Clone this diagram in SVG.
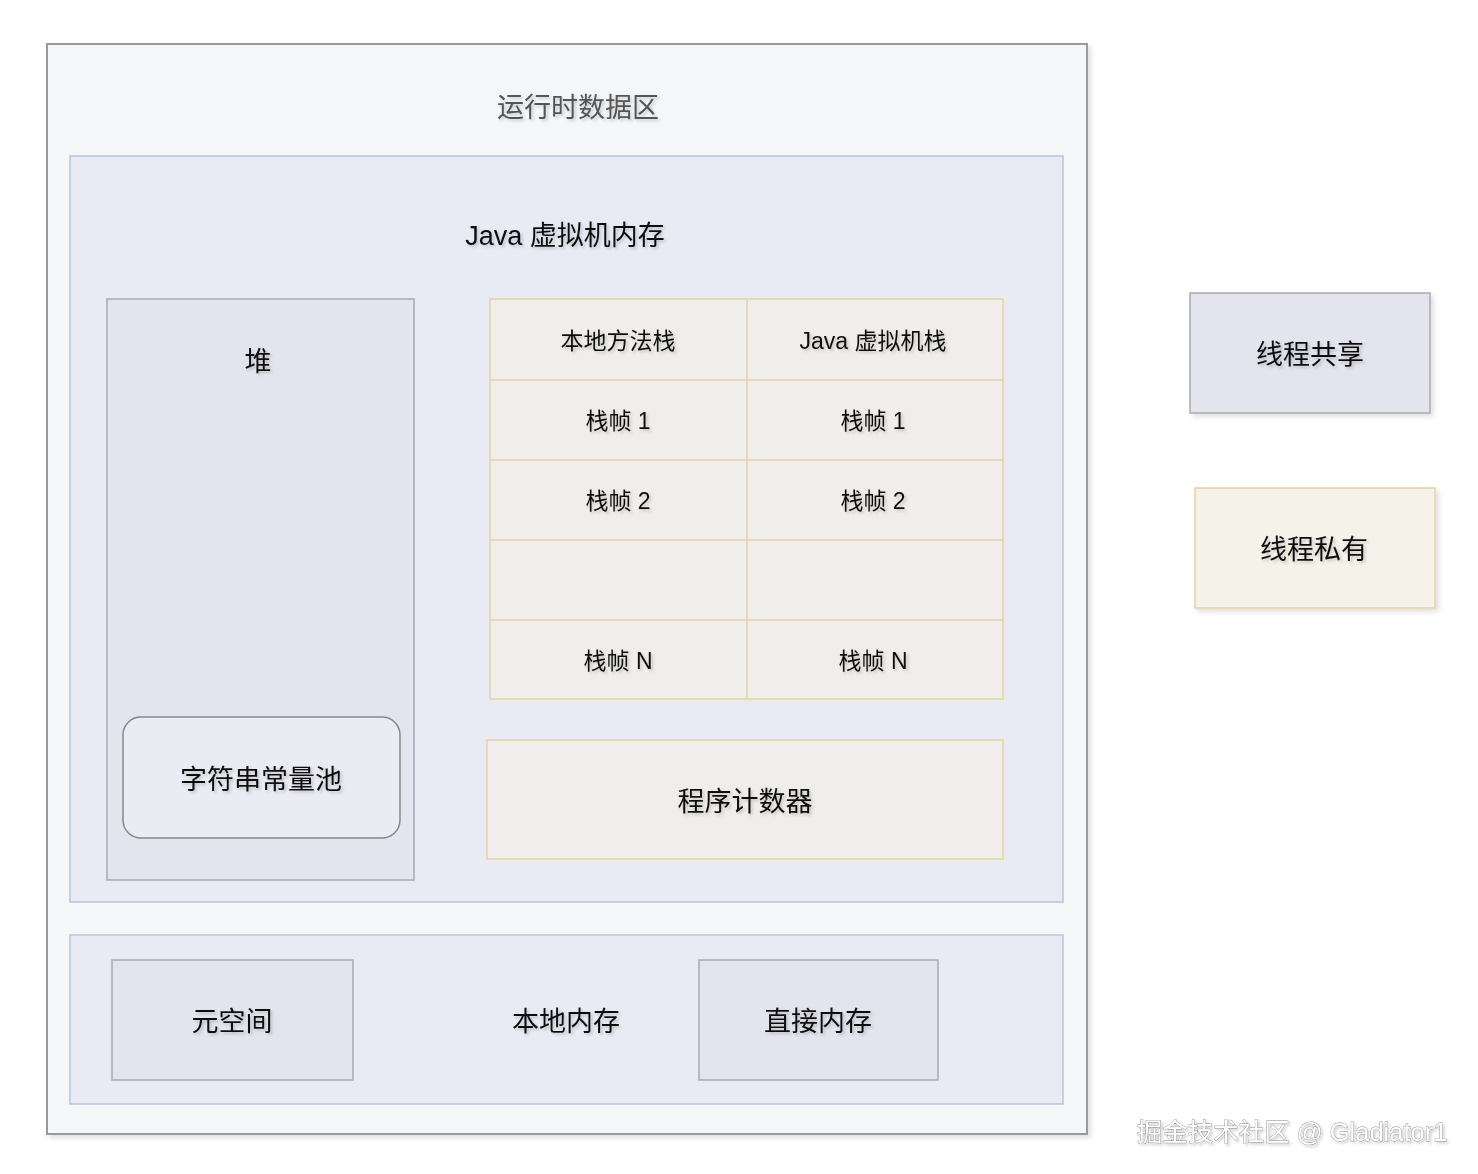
<svg xmlns="http://www.w3.org/2000/svg" width="1478" height="1174" viewBox="0 0 1478 1174">
<defs>
<filter id="sh" x="-10%" y="-10%" width="130%" height="130%">
<feDropShadow dx="3" dy="3" stdDeviation="2.5" flood-color="#000" flood-opacity="0.12"/>
</filter>
<filter id="tsh" x="-10%" y="-30%" width="130%" height="170%">
<feDropShadow dx="2" dy="2" stdDeviation="1.5" flood-color="#000" flood-opacity="0.18"/>
</filter>
</defs>
<style>
text{font-family:"Liberation Sans","Noto Sans CJK SC",sans-serif;text-anchor:middle;dominant-baseline:central;fill:#111;}
.t27{font-size:27px;}
.t23{font-size:23px;}
.shared{fill:#e4e4ee;stroke:#a9a9b0;stroke-width:1.5;}
.mem{fill:#e8ebf4;stroke:#b9c3da;stroke-width:1.5;}
.priv{fill:#efeeec;stroke:#e7d29f;stroke-width:1.5;}
.lbl{filter:url(#tsh);}
</style>
<rect width="1478" height="1174" fill="#ffffff"/>
<g id="runtime-data-area">
<rect x="47" y="44" width="1040" height="1090" fill="#f5f6f8" stroke="#9a9a9a" stroke-width="2" filter="url(#sh)"/>
<text class="t27 lbl" x="578" y="108" style="fill:#555">运行时数据区</text>
</g>
<g id="jvm-memory">
<rect class="mem" x="70" y="156" width="993" height="746"/>
<text class="t27 lbl" x="565" y="236">Java 虚拟机内存</text>
</g>
<g id="heap">
<rect class="shared" x="107" y="299" width="307" height="581"/>
<text class="t27 lbl" x="258" y="362">堆</text>
</g>
<g id="string-pool">
<rect x="123" y="717" width="277" height="121" rx="18" fill="#ebebf3" stroke="#888" stroke-width="1.5"/>
<text class="t27 lbl" x="261" y="780">字符串常量池</text>
</g>
<g id="stacks">
<rect class="priv" x="490" y="299" width="513" height="400"/>
<g stroke="#e7d29f" stroke-width="1.5">
<line x1="747" y1="299" x2="747" y2="699"/>
<line x1="490" y1="380" x2="1003" y2="380"/>
<line x1="490" y1="460" x2="1003" y2="460"/>
<line x1="490" y1="540" x2="1003" y2="540"/>
<line x1="490" y1="620" x2="1003" y2="620"/>
</g>
<text class="t23 lbl" x="618" y="341">本地方法栈</text>
<text class="t23 lbl" x="873" y="341">Java 虚拟机栈</text>
<text class="t23 lbl" x="618" y="421">栈帧 1</text>
<text class="t23 lbl" x="873" y="421">栈帧 1</text>
<text class="t23 lbl" x="618" y="501">栈帧 2</text>
<text class="t23 lbl" x="873" y="501">栈帧 2</text>
<text class="t23 lbl" x="618" y="661">栈帧 N</text>
<text class="t23 lbl" x="873" y="661">栈帧 N</text>
</g>
<g id="program-counter">
<rect class="priv" x="487" y="740" width="516" height="119"/>
<text class="t27 lbl" x="745" y="802">程序计数器</text>
</g>
<g id="native-memory">
<rect class="mem" x="70" y="935" width="993" height="169"/>
<text class="t27 lbl" x="566" y="1022">本地内存</text>
</g>
<g id="metaspace">
<rect class="shared" x="112" y="960" width="241" height="120"/>
<text class="t27 lbl" x="232" y="1022">元空间</text>
</g>
<g id="direct-memory">
<rect class="shared" x="699" y="960" width="239" height="120"/>
<text class="t27 lbl" x="818" y="1022">直接内存</text>
</g>
<g id="legend-shared">
<rect class="shared" x="1190" y="293" width="240" height="120" filter="url(#sh)"/>
<text class="t27 lbl" x="1310" y="355">线程共享</text>
</g>
<g id="legend-private">
<rect x="1195" y="488" width="240" height="120" fill="#f5f2ea" stroke="#e7d29f" stroke-width="1.5" filter="url(#sh)"/>
<text class="t27 lbl" x="1314" y="550">线程私有</text>
</g>
<g id="connectors"></g>
<text x="1292" y="1132" style="font-size:25.5px;fill:#ffffff;stroke:#8a8a8a;stroke-width:0.8;paint-order:stroke;" filter="url(#tsh)">掘金技术社区 @ Gladiator1</text>
</svg>
